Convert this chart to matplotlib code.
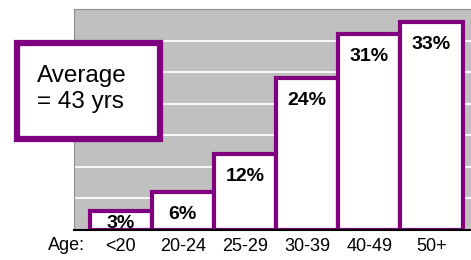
import matplotlib.pyplot as plt
from matplotlib.patches import Rectangle

# Data
age_groups = ['<20', '20-24', '25-29', '30-39', '40-49', '50+']
share_pct = [3, 6, 12, 24, 31, 33]
avg_age = 43

purple = '#800080'
grey = '#c0c0c0'

plt.rcParams['font.family'] = ['Liberation Sans', 'DejaVu Sans']

fig = plt.figure(figsize=(4.71, 2.6), dpi=100)
ax = fig.add_axes([74 / 471, 30 / 260, 397 / 471, 221 / 260])
ax.set_facecolor(grey)

x = list(range(len(age_groups)))
ax.bar(x, share_pct, width=1.0, color='white', edgecolor=purple,
       linewidth=3, zorder=3)

# percent labels inside the top of each bar
for xi, v in zip(x, share_pct):
    ax.text(xi, max(v - 2.2, 2.4), f'{v}%', ha='center', va='top',
            fontsize=14, fontweight='bold', zorder=4, clip_on=True)

ax.set_ylim(0, 35)
ax.set_xlim(-0.75, 5.635)
ax.set_yticks(range(0, 36, 5))
ax.yaxis.grid(True, color='white', linewidth=1.3, zorder=0)
ax.set_axisbelow(True)
ax.tick_params(axis='y', left=False, labelleft=False)
ax.tick_params(axis='x', bottom=False, pad=2)
ax.set_xticks(x)
ax.set_xticklabels(age_groups, fontsize=13)

ax.spines['right'].set_visible(False)
ax.spines['top'].set_color('#909090')
ax.spines['left'].set_color('#909090')
ax.spines['bottom'].set_color('black')
ax.spines['bottom'].set_linewidth(1.5)
ax.spines['bottom'].set_zorder(5)

fig.text(85 / 471, 1 - 246 / 260, 'Age:', ha='right', va='center', fontsize=13)

# average callout box
box = Rectangle((17 / 471, 1 - 139 / 260), 143 / 471, 96 / 260,
                transform=fig.transFigure, facecolor='white',
                edgecolor=purple, linewidth=4.5, zorder=10)
fig.add_artist(box)
fig.text(37 / 471, 1 - 89 / 260, f'Average\n= {avg_age} yrs', ha='left',
         va='center', fontsize=17.5, linespacing=1.2, zorder=11)

fig.savefig('out.png', dpi=100)
